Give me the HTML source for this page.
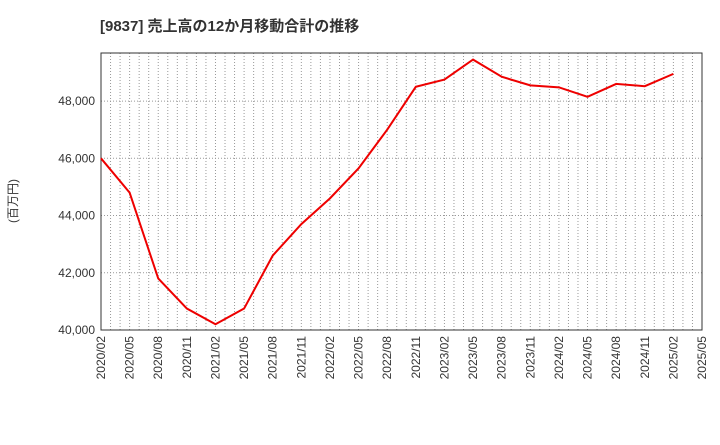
<!DOCTYPE html>
<html><head><meta charset="utf-8"><style>
body{margin:0;background:#fff;font-family:"Liberation Sans","Noto Sans CJK JP",sans-serif;}
svg text{font-family:"Liberation Sans","Noto Sans CJK JP",sans-serif;}
</style></head><body>
<svg id="chart" width="720" height="440" xmlns="http://www.w3.org/2000/svg">
<text x="100" y="31" font-size="15" font-weight="bold" fill="#333">[9837]  売上高の12か月移動合計の推移</text>
<text transform="translate(17,201) rotate(-90)" font-size="12" fill="#333" text-anchor="middle">(百万円)</text>
<g id="grid"></g><g id="axes"></g><g id="series"></g>
</svg>
<script>
const xLabels=["2020/02","2020/05","2020/08","2020/11","2021/02","2021/05","2021/08","2021/11","2022/02","2022/05","2022/08","2022/11","2023/02","2023/05","2023/08","2023/11","2024/02","2024/05","2024/08","2024/11","2025/02","2025/05"];
const values=[46000,44800,41800,40750,40200,40750,42600,43700,44600,45650,47000,48500,48750,49450,48850,48550,48480,48150,48600,48520,48950];
const yTicks=[40000,42000,44000,46000,48000];
const L=101,R=702,T=53,B=330,yMin=40000,yMax=49680;
const NS="http://www.w3.org/2000/svg";
const nMonths=(xLabels.length-1)*3;
const xm=m=>L+(R-L)*m/nMonths;
const xs=i=>xm(i*3);
const ys=v=>B-(v-yMin)/(yMax-yMin)*(B-T);
function mk(t,a,p){const e=document.createElementNS(NS,t);for(const k in a)e.setAttribute(k,a[k]);p.appendChild(e);return e;}
const grid=document.getElementById('grid'),axes=document.getElementById('axes'),ser=document.getElementById('series');
for(let m=1;m<nMonths;m++){const l=mk('line',{x1:xm(m),x2:xm(m),y1:T,y2:B,stroke:'#999','stroke-dasharray':'1,2','stroke-width':1},grid);

}
yTicks.forEach(v=>{if(v>yMin){const l=mk('line',{x1:L,x2:R,y1:ys(v),y2:ys(v),stroke:'#999','stroke-dasharray':'1,2','stroke-width':1},grid);

}
const t=mk('text',{x:L-6,y:ys(v)+4,'font-size':12,'text-anchor':'end',fill:'#333'},axes);t.textContent=v.toLocaleString('en-US');

});
const fr=mk('rect',{x:L,y:T,width:R-L,height:B-T,fill:'none',stroke:'#333','stroke-width':1},axes);


xLabels.forEach((s,i)=>{const t=mk('text',{transform:`translate(${xs(i)+4},${B+6}) rotate(-90)`,'font-size':12,'text-anchor':'end',fill:'#333'},axes);t.textContent=s;

});
const p=mk('polyline',{points:values.map((v,i)=>xs(i)+','+ys(v)).join(' '),fill:'none',stroke:'#e00','stroke-width':2},ser);


</script>
</body></html>
